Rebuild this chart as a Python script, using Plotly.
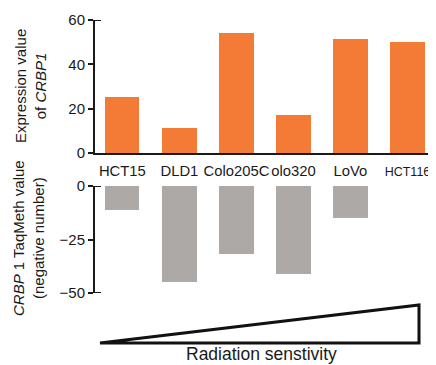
import plotly.graph_objects as go

categories = ["HCT15", "DLD1", "Colo205C", "olo320", "LoVo", "HCT116"]
expression = [25.2, 11.3, 54.0, 17.1, 51.3, 50.0]
taqmeth = [-11.2, -45.0, -31.8, -41.0, -15.0, None]
expr_ticks = [0, 20, 40, 60]
taq_ticks = [0, -25, -50]
taq_ticklabels = ["0", "\u221225", "\u221250"]
# last label is printed narrower in the original
cat_ticklabels = categories[:-1] + ['<span style="font-size:12.5px">' + categories[-1] + '</span>']

# page body has an 8px margin, so the figure is sized to fill the window from (8, 8)
OFF = 8
W, H = 436 - OFF, 365 - OFF
def px(x):
    return (x - OFF) / W
def py(y):
    return 1 - (y - OFF) / H

FONT = "Liberation Sans, Arial, sans-serif"
AX = "#1a1a1a"
ORANGE = "#F47B35"
GREY = "#ADA9A7"

fig = go.Figure()
fig.add_trace(go.Bar(x=categories, y=expression, marker=dict(color=ORANGE, line=dict(width=0)),
                     width=0.6, xaxis="x", yaxis="y", showlegend=False))
fig.add_trace(go.Bar(x=categories, y=taqmeth, marker=dict(color=GREY, line=dict(width=0)),
                     width=0.6, xaxis="x2", yaxis="y2", showlegend=False))

xr = [-0.48, 5.5]
fig.update_layout(
    width=W, height=H,
    margin=dict(l=0, r=0, t=0, b=0, autoexpand=False),
    paper_bgcolor="white", plot_bgcolor="white",
    font=dict(family=FONT, size=14, color="#1a1a1a"),
    bargap=0,
    xaxis=dict(domain=[px(95), 1], range=xr, type="category", showline=True, linecolor=AX,
               linewidth=2, ticks="outside", ticklen=3, tickcolor="rgba(0,0,0,0)",
               tickvals=categories, ticktext=cat_ticklabels,
               showgrid=False, zeroline=False, tickfont=dict(size=14.8), tickangle=0,
               anchor="y", automargin=False),
    yaxis=dict(domain=[py(153), py(20)], range=[0, 60], tickvals=expr_ticks, showline=True,
               linecolor=AX, linewidth=2, ticks="outside", ticklen=5, tickwidth=2, tickcolor=AX,
               showgrid=False, zeroline=False, tickfont=dict(size=15), anchor="x",
               automargin=False),
    xaxis2=dict(domain=[px(95), 1], range=xr, type="category", showline=False, showticklabels=False,
                ticks="", showgrid=False, zeroline=False, anchor="y2", automargin=False),
    yaxis2=dict(domain=[py(293), py(186)], range=[-50, 0], tickvals=taq_ticks,
                ticktext=taq_ticklabels, showline=True, linecolor=AX, linewidth=2,
                ticks="outside", ticklen=5, tickwidth=2, tickcolor=AX, showgrid=False,
                zeroline=False, tickfont=dict(size=15), anchor="x2", automargin=False),
)

shapes = []
# end caps on the axis lines
shapes.append(dict(type="line", xref="paper", yref="y", x0=px(94), x1=px(101), y0=60, y1=60,
                   line=dict(color=AX, width=2)))
for v in [0, -50]:
    shapes.append(dict(type="line", xref="paper", yref="y2", x0=px(94), x1=px(101), y0=v, y1=v,
                       line=dict(color=AX, width=2)))
# radiation sensitivity wedge
path = "M {:.4f} {:.4f} L {:.4f} {:.4f} L {:.4f} {:.4f} Z".format(
    px(100), py(343), px(419), py(343), px(419), py(305))
shapes.append(dict(type="path", xref="paper", yref="paper", path=path,
                   line=dict(color="#111", width=3), fillcolor="white"))
fig.update_layout(shapes=shapes)

fig.add_annotation(xref="paper", yref="paper", x=px(30), y=py(86), xanchor="center",
                   yanchor="middle",
                   text="Expression value<br>of <i>CRBP1</i>", textangle=-90, showarrow=False,
                   font=dict(size=15, family=FONT, color="#1a1a1a"), align="center")
fig.add_annotation(xref="paper", yref="paper", x=px(28), y=py(238), xanchor="center",
                   yanchor="middle",
                   text="<i>CRBP</i> 1 TaqMeth value<br>(negative number)", textangle=-90,
                   showarrow=False, font=dict(size=15, family=FONT, color="#1a1a1a"), align="center")
fig.add_annotation(xref="paper", yref="paper", x=px(261), y=py(354), xanchor="center",
                   text="Radiation senstivity", showarrow=False,
                   font=dict(size=17.5, family=FONT, color="#1a1a1a"), yanchor="middle")

fig.write_html("out.html")
